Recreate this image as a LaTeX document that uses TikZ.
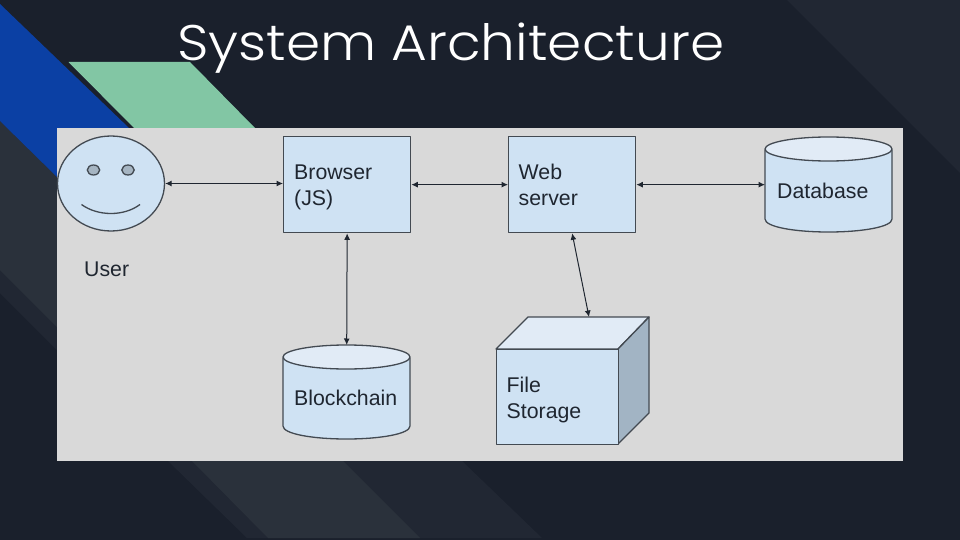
\documentclass[tikz,border=0pt]{standalone}
\usepackage{fontspec}
\usetikzlibrary{arrows.meta,shapes.geometric}
\setmainfont{Liberation Sans}
\newfontfamily\titlefont[UprightFont=* Light]{Poppins}
\definecolor{bgdark}{HTML}{1A202C}
\definecolor{bglight}{HTML}{2A313B}
\definecolor{bgmid}{HTML}{212733}
\definecolor{slateblue}{HTML}{0B40A4}
\definecolor{mintgreen}{HTML}{82C6A4}
\definecolor{panelgray}{HTML}{D9D9D9}
\definecolor{boxblue}{HTML}{CFE2F3}
\definecolor{toplight}{HTML}{E1EBF6}
\definecolor{sideblue}{HTML}{A2B4C4}
\definecolor{eyegray}{HTML}{A6B5C2}
\definecolor{inkline}{HTML}{434A52}
\definecolor{inktext}{HTML}{1F2630}
\tikzset{
  shapeline/.style={draw=inkline,line width=1.3pt,line join=round},
  boxnode/.style={shapeline,fill=boxblue,rectangle,minimum width=127pt,minimum height=96pt,inner sep=0pt},
  anchornode/.style={rectangle,minimum width=127pt,minimum height=95pt,inner sep=0pt},
  lbl/.style={text=inktext,font=\fontsize{21.3}{26}\selectfont,align=left,inner sep=0pt},
  conn/.style={draw=inktext,line width=1pt,{Latex[length=6.5pt,width=6pt]}-{Latex[length=6.5pt,width=6pt]}},
}
\newcommand{\cylshape}[3]{% left, top, bottom (width 127, ry 12)
  \path[shapeline,fill=boxblue] (#1,#2+13) -- (#1,#3-13) .. controls (#1,#3-5) and (#1+30,#3) .. (#1+63.5,#3) .. controls (#1+97,#3) and (#1+127,#3-5) .. (#1+127,#3-13) -- (#1+127,#2+13) -- cycle;
  \path[shapeline,fill=toplight] (#1+63.5,#2+12) ellipse [x radius=63.5,y radius=12];
}
\begin{document}
\begin{tikzpicture}[x=1pt,y=-1pt]
\useasboundingbox (0,0) rectangle (960,540);
\fill[bgdark] (0,0) rectangle (960,540);
% background facets
\fill[bgmid] (787,0) -- (960,173) -- (960,0) -- cycle;
\fill[bgmid] (0,121) -- (57,177) -- (57,350) -- (0,293) -- cycle;
\fill[bglight] (0,121) -- (57,177) -- (57,327) -- (0,270) -- cycle;
\fill[bgmid] (168,461) -- (462,461) -- (542,538) -- (247,538) -- cycle;
\fill[bglight] (192,461) -- (343,461) -- (420,538) -- (268,538) -- cycle;
% accent shapes
\fill[slateblue] (0,4) -- (129,128) -- (57,128) -- (57,177) -- (0,121) -- cycle;
\fill[mintgreen] (68.5,62) -- (190,62) -- (255,128) -- (134,128) -- cycle;
% panel
\fill[panelgray] (57,128) rectangle (903,461);
% title
\node[name=title,anchor=base west,text=white,inner sep=0pt,xscale=1.099,font=\titlefont\fontsize{50}{60}\selectfont] at (177,61) {System Architecture};
% user
\node[name=user,ellipse,shapeline,fill=boxblue,minimum width=107pt,minimum height=95pt,inner sep=0pt] at (111,183.5) {};
\path[shapeline,fill=eyegray] (93.5,170) ellipse [x radius=6.2,y radius=5];
\path[shapeline,fill=eyegray] (128,170) ellipse [x radius=6.2,y radius=5];
\draw[shapeline] (81.5,204.5) .. controls (98,216.5) and (124,216.5) .. (140,204.5);
\node[name=userlabel,lbl,anchor=base west] at (84,276) {User};
% boxes
\node[name=browser,boxnode,anchor=north west] at (283,136) {};
\node[name=browserlabel,lbl,anchor=base west] at (294,205) {Browser\\(JS)};
\node[name=web,boxnode,anchor=north west] at (508,136) {};
\node[name=weblabel,lbl,anchor=base west] at (518.5,205) {Web\\server};
% cylinders
\cylshape{765}{137}{232}
\node[name=db,anchornode,anchor=north west] at (765,137) {};
\node[name=dblabel,lbl,anchor=base west] at (777,198) {Database};
\cylshape{283}{345}{439}
\node[name=chain,anchornode,anchor=north west] at (283,345) {};
\node[name=chainlabel,lbl,anchor=base west] at (294,405) {Blockchain};
% cube
\path[shapeline,fill=toplight] (496,349) -- (528,317) -- (649,317) -- (618,349) -- cycle;
\path[shapeline,fill=sideblue] (618,349) -- (649,317) -- (649,413) -- (618,444) -- cycle;
\node[name=storefront,shapeline,fill=boxblue,rectangle,minimum width=122pt,minimum height=95pt,inner sep=0pt,anchor=north west] at (496,349) {};
\node[name=storelabel,lbl,anchor=base west] at (506.5,418) {File\\Storage};
\coordinate (storetop) at (589,317);
% connectors
\draw[conn] (user.east) -- (browser.west |- user.east);
\draw[conn] (browser.east) -- (web.west);
\draw[conn] (web.east) -- (db.west |- web.east);
\draw[conn] (browser.south) -- (chain.north);
\draw[conn] (web.south) -- (storetop);
\end{tikzpicture}
\end{document}
